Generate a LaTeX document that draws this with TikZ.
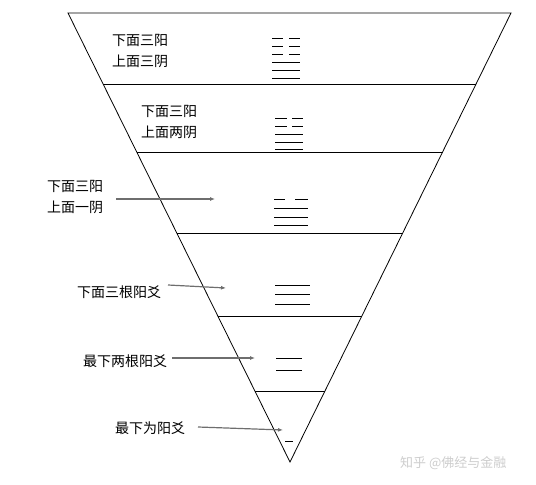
\documentclass[tikz,border=0pt]{standalone}
\usepackage{fontspec}
\usepackage{tikz}
\usetikzlibrary{arrows.meta, positioning}
\newfontfamily\cjk{Noto Sans CJK SC}
\definecolor{arrowgray}{RGB}{110,110,110}
\definecolor{markgray}{RGB}{205,205,205}
\tikzset{
  caption/.style={font=\cjk\fontsize{14}{21}\selectfont, anchor=west, inner sep=0pt, align=left},
  yao/.style={line width=0.9pt},
  pointer/.style={draw=arrowgray, line width=1.2pt, -{Latex[length=5pt,width=4pt,fill=black!80]}}
}
\begin{document}
\begin{tikzpicture}[x=1pt, y=-1pt]
  \useasboundingbox (0,0) rectangle (536,485);
  % inverted triangle
  \coordinate (tl) at (68,13);
  \coordinate (tr) at (511,13);
  \coordinate (apex) at (290,462);
  \draw[line width=0.8pt] (tl) -- (tr) -- (apex) -- cycle;
  % layers
  \draw[line width=0.8pt] (103.1,84) -- (476.1,84);
  \draw[line width=0.8pt] (136.7,152) -- (442.6,152);
  \draw[line width=0.8pt] (176.8,233) -- (402.7,233);
  \draw[line width=0.8pt] (217.8,316) -- (361.9,316);
  \draw[line width=0.8pt] (254.9,391) -- (324.9,391);

  % hexagram: three yin over three yang
  \foreach \y in {38,46,54} {
    \draw[yao] (272,\y) -- (283,\y);
    \draw[yao] (289,\y) -- (300,\y);
  }
  \foreach \y in {62,70,78}
    \draw[yao] (272,\y) -- (300,\y);
  \node[caption] (kun) at (112,50.5) {下面三阳\\上面三阴};

  % two yin over three yang
  \foreach \y in {118,126} {
    \draw[yao] (275,\y) -- (287,\y);
    \draw[yao] (292,\y) -- (303,\y);
  }
  \foreach \y in {134,142,149}
    \draw[yao] (275,\y) -- (303,\y);
  \node[caption] (tai) at (141,121.5) {下面三阳\\上面两阴};

  % one yin over three yang
  \draw[yao] (274,199) -- (285,199);
  \draw[yao] (295,199) -- (308,199);
  \foreach \y in {208,217,225}
    \draw[yao] (274,\y) -- (308,\y);
  \node[caption] (dazhuang) at (47,197) {下面三阳\\上面一阴};
  \coordinate (s3) at (116,199);
  \coordinate (p3) at (215,199);
  \draw[pointer] (s3) -- (p3);

  % three yang
  \foreach \y in {285,294,304}
    \draw[yao] (275,\y) -- (310,\y);
  \node[caption] (qian) at (77,292) {下面三根阳爻};
  \coordinate (s4) at (168,285);
  \coordinate (p4) at (226,288);
  \draw[pointer] (s4) -- (p4);

  % two yang
  \foreach \y in {358,370}
    \draw[yao] (276,\y) -- (302,\y);
  \node[caption] (dui) at (83,361) {最下两根阳爻};
  \coordinate (s5) at (172,358);
  \coordinate (p5) at (255,358);
  \draw[pointer] (s5) -- (p5);

  % one yang
  \draw[yao] (285,441) -- (293,441);
  \node[caption] (yang) at (115,428) {最下为阳爻};
  \coordinate (s6) at (198,427);
  \coordinate (p6) at (283,430);
  \draw[pointer] (s6) -- (p6);

  % watermark
  \node[font=\cjk\fontsize{13}{14}\selectfont, text=markgray, anchor=west, inner sep=0pt] (mark) at (400,463) {知乎 @佛经与金融};
\end{tikzpicture}
\end{document}
